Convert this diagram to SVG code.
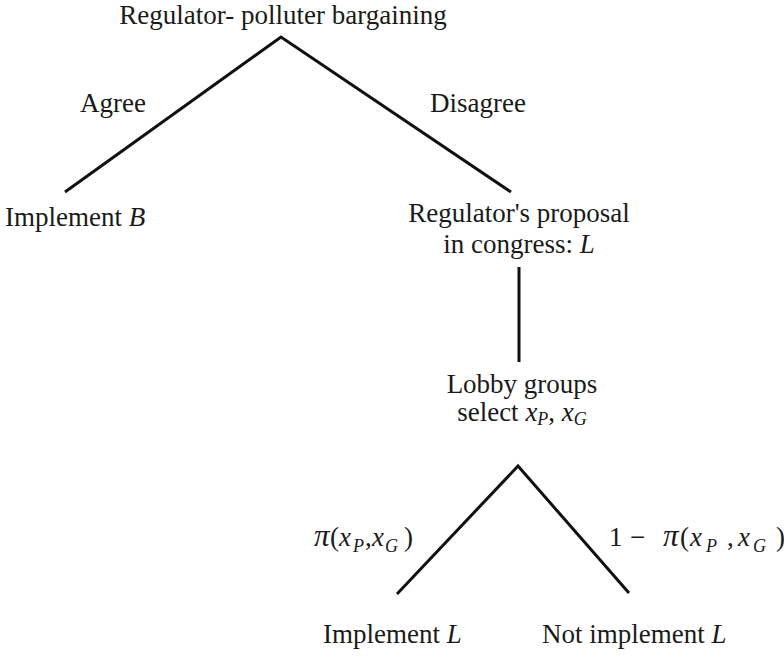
<svg xmlns="http://www.w3.org/2000/svg" width="784" height="658" viewBox="0 0 784 658">
  <style>
    .lbl { font-family: "Liberation Serif", "Times New Roman", serif; font-size: 27px; fill: #1a1a1a; }
    .m { font-style: italic; }
    .pi { font-style: italic; font-size: 31px; }
    .sub { font-style: italic; font-size: 18px; }
    .edge { stroke: #111; stroke-width: 3; fill: none; stroke-linecap: butt; }
  </style>
  <rect width="784" height="658" fill="#fff"/>

  <!-- branches of the game tree -->
  <g id="connectors">
    <polyline class="edge" points="65,192 281,37 511,192"/>
    <line class="edge" x1="519" y1="267" x2="519" y2="362"/>
    <polyline class="edge" points="397,594 518,466 629,593"/>
  </g>

  <g id="root">
    <text class="lbl" x="283" y="24" text-anchor="middle">Regulator- polluter bargaining</text>
  </g>
  <g id="edge-labels">
    <text class="lbl" x="80" y="112">Agree</text>
    <text class="lbl" x="430" y="112">Disagree</text>
  </g>
  <g id="implement-b">
    <text class="lbl" x="5" y="226">Implement <tspan class="m">B</tspan></text>
  </g>
  <g id="proposal">
    <text class="lbl" x="519" y="222" text-anchor="middle">Regulator's proposal</text>
    <text class="lbl" x="519" y="253" text-anchor="middle">in congress: <tspan class="m">L</tspan></text>
  </g>
  <g id="lobby">
    <text class="lbl" x="522" y="393" text-anchor="middle">Lobby groups</text>
    <text class="lbl" x="522" y="421" text-anchor="middle">select <tspan class="m">x</tspan><tspan class="sub" dy="4">P</tspan><tspan dy="-4">, </tspan><tspan class="m">x</tspan><tspan class="sub" dy="4">G</tspan></text>
  </g>
  <g id="probabilities">
    <text class="lbl" y="546"><tspan class="pi" x="314">π</tspan><tspan x="330">(</tspan><tspan class="m" x="339">x</tspan><tspan class="sub" x="353" y="552">P</tspan><tspan x="365" y="546">,</tspan><tspan class="m" x="372">x</tspan><tspan class="sub" x="385" y="552">G</tspan><tspan x="404" y="546">)</tspan></text>
    <text class="lbl" y="546"><tspan x="609">1</tspan><tspan x="630">−</tspan><tspan class="pi" x="663">π</tspan><tspan x="680">(</tspan><tspan class="m" x="690">x</tspan><tspan class="sub" x="706" y="552">P</tspan><tspan x="727" y="546">,</tspan><tspan class="m" x="738">x</tspan><tspan class="sub" x="753" y="552">G</tspan><tspan x="776" y="546">)</tspan></text>
  </g>
  <g id="implement-l">
    <text class="lbl" x="323" y="643">Implement <tspan class="m">L</tspan></text>
  </g>
  <g id="not-implement-l">
    <text class="lbl" x="542" y="643">Not implement <tspan class="m">L</tspan></text>
  </g>
</svg>
